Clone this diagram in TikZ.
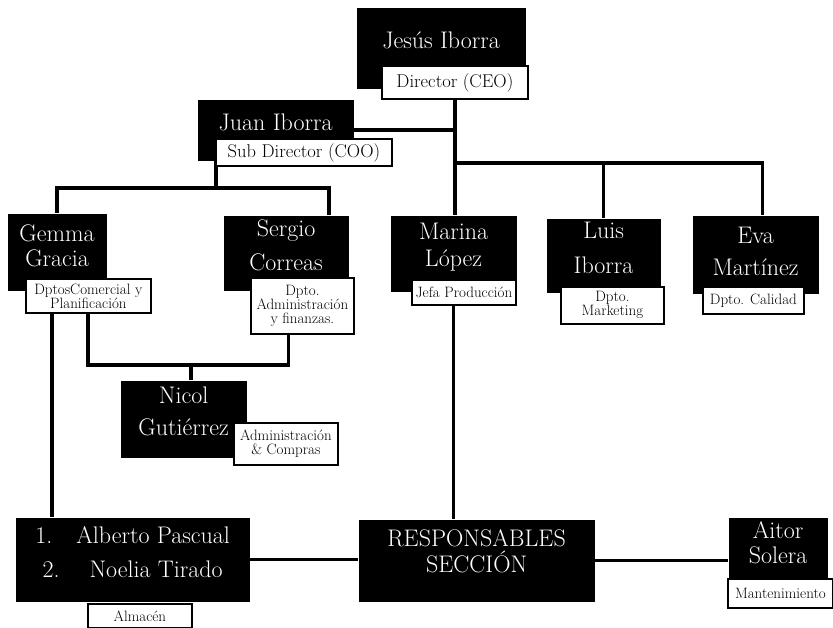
\documentclass[tikz,border=0pt]{standalone}
\usetikzlibrary{positioning, calc, backgrounds}
\tikzset{
  every picture/.style={line width=1.2pt},
  namebox/.style={fill=black, text=white, inner sep=0pt, align=center, anchor=north west, font=\fontsize{24}{25}\selectfont},
  rolebox/.style={draw=black, fill=white, line width=1.8pt, inner sep=0pt, align=center, anchor=north west, font=\fontsize{15}{14}\selectfont},
  bigrole/.style={rolebox, font=\fontsize{18.5}{19}\selectfont},
  link/.style={draw=black, line width=3.5pt},
}

\begin{document}
\begin{tikzpicture}[x=1pt, y=-1pt]
  \useasboundingbox (0,0) rectangle (833,628);
  % direction
  \node[namebox, minimum width=169pt, text height=41pt, text depth=40pt] (jesus) at (356,7) {Jesús Iborra};
  \node[bigrole, minimum width=146pt, minimum height=33pt] (jesusrole) at (381,65) {Director (CEO)};
  \node[namebox, minimum width=156pt, text height=31pt, text depth=30pt] (juan) at (197,99) {Juan Iborra};
  \node[bigrole, minimum width=176pt, minimum height=27pt] (juanrole) at (215,138) {Sub Director (COO)};
  % departments
  \node[namebox, minimum width=99pt, text height=53pt, text depth=24pt] (gemma) at (7,213) {Gemma\\Gracia};
  \node[rolebox, minimum width=125pt, minimum height=34pt] (gemmarole) at (25,278) {DptosComercial y\\Planificación};
  \node[namebox, minimum width=125pt, text height=55pt, text depth=20pt] (sergio) at (223,215) {Sergio\\[9pt]Correas};
  \node[rolebox, minimum width=103pt, minimum height=56pt] (sergiorole) at (250,277) {Dpto.\\Administración\\y finanzas.};
  \node[namebox, minimum width=126pt, text height=51pt, text depth=25pt] (marina) at (390,215) {Marina\\[2pt]López};
  \node[rolebox, minimum width=104pt, minimum height=25pt] (marinarole) at (411,279) {Jefa Producción};
  \node[namebox, minimum width=114pt, text height=55pt, text depth=19pt] (luis) at (546,218) {Luis\\[10pt]Iborra};
  \node[rolebox, minimum width=103pt, minimum height=37pt] (luisrole) at (560,286) {Dpto.\\Marketing};
  \node[namebox, minimum width=126pt, text height=60pt, text depth=18pt] (eva) at (692,215) {Eva\\[7pt]Martínez};
  \node[rolebox, minimum width=101pt, minimum height=27pt] (evarole) at (702,286) {Dpto. Calidad};
  \node[namebox, minimum width=126pt, text height=55pt, text depth=22pt] (nicol) at (120,380) {Nicol\\[7pt]Gutiérrez};
  \node[rolebox, minimum width=104pt, minimum height=42pt] (nicolrole) at (233,422) {Administración\\\& Compras};
  % bottom row
  \node[namebox, minimum width=234pt, text height=60pt, text depth=24pt] (alberto) at (15,517) {1.\hspace{24pt}Alberto Pascual\\[9pt]2.\hspace{30pt}Noelia Tirado};
  \node[rolebox, minimum width=104pt, minimum height=24pt] (albertorole) at (87,603) {Almacén};
  \node[namebox, minimum width=236pt, text height=53pt, text depth=29pt] (resp) at (358,519) {RESPONSABLES\\[1pt]SECCIÓN};
  \node[namebox, minimum width=99pt, text height=46pt, text depth=29pt] (aitor) at (728,517) {Aitor\\Solera};
  \node[rolebox, minimum width=105pt, minimum height=29pt] (aitorrole) at (727,578) {Mantenimiento};
  % connectors
  \begin{scope}[on background layer]
    \draw[link] (jesusrole.south) -- (jesusrole.south |- marina.north);
    \draw[link] (juan.east) -- (juan.east -| jesusrole.south);
    \coordinate (opsjoin) at (jesusrole.south |- 0,163);
    \draw[link] (opsjoin) -| (luis.north);
    \draw[link] (opsjoin) -| ([xshift=7pt]eva.north);
    \coordinate (coojoin) at (216,188);
    \draw[link] (coojoin |- juan.south) -- (coojoin);
    \draw[link] (gemma.north) |- (coojoin) -| ([xshift=-20pt]sergio.north east);
    \draw[link] ([xshift=27pt]gemmarole.south west) -- ([xshift=27pt]gemmarole.south west |- alberto.north);
    \coordinate (admjoin) at (191,365);
    \draw[link] ([xshift=63pt]gemmarole.south west) |- (admjoin) -| ([xshift=-14pt]sergiorole.south);
    \draw[link] (admjoin) -- (admjoin |- nicol.north);
    \draw[link] (marina.south) -- (marina.south |- resp.north);
    \draw[link] (alberto.east) -- (alberto.east -| resp.west);
    \draw[link] (resp.east) -- (resp.east -| aitor.west);
  \end{scope}
\end{tikzpicture}
\end{document}
